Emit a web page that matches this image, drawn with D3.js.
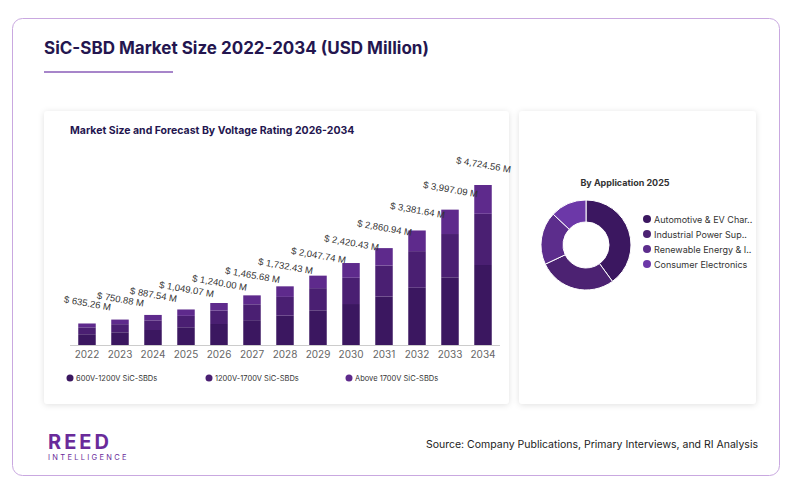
<!DOCTYPE html><html><head><meta charset="utf-8"><script src="https://cdn.jsdelivr.net/npm/d3@7"></script>
<style>body{margin:0;background:#fff;font-family:Inter,"Open Sans",sans-serif}</style></head><body><svg id="c" width="800" height="493"></svg>
<script>
const years=["2022","2023","2024","2025","2026","2027","2028","2029","2030","2031","2032","2033","2034"];
const totals=[635.26,750.88,887.54,1049.07,1240.00,1465.68,1732.43,2047.74,2420.43,2860.94,3381.64,3997.09,4724.56];
const seg600=[318,375,443,524,620,733,866,1024,1210,1430,1690,1998,2362];
const seg1200=[203,240,284,336,397,469,554,655,775,916,1082,1279,1512];
const segAbove=[114.26,135.88,160.54,189.07,223.00,263.68,312.43,368.74,435.43,514.94,609.64,720.09,850.56];
const seriesNames=["600V-1200V SiC-SBDs","1200V-1700V SiC-SBDs","Above 1700V SiC-SBDs"];
const barColors=["#3b1760","#4a1f72","#5e2a8c"];
const apps=["Automotive & EV Char..","Industrial Power Sup..","Renewable Energy & I..","Consumer Electronics"];
const appShares=[40,28,19,13];
const pieColors=["#3b1760","#4c2272","#5c2d8c","#6c38a8"];

const svg=d3.select("#c");
const defs=svg.append("defs");
const f=defs.append("filter").attr("id","sh").attr("x","-10%").attr("y","-10%").attr("width","120%").attr("height","120%");
f.append("feDropShadow").attr("dx",0).attr("dy",1).attr("stdDeviation",3).attr("flood-color","#000").attr("flood-opacity",0.12);
svg.append("rect").attr("x",12.5).attr("y",18.5).attr("width",767).attr("height",457).attr("rx",10).attr("fill","#fff").attr("stroke","#c9a8e0");
svg.append("text").attr("x",44).attr("y",54).text("SiC-SBD Market Size 2022-2034 (USD Million)").attr("font-size",17).attr("font-weight",700).attr("fill","#24164f");
svg.append("line").attr("x1",44).attr("x2",173).attr("y1",72).attr("y2",72).attr("stroke","#8a5cb8").attr("stroke-width",1.5);
svg.append("rect").attr("x",44).attr("y",111).attr("width",465).attr("height",293).attr("rx",4).attr("fill","#fff").attr("filter","url(#sh)");
svg.append("rect").attr("x",519).attr("y",111).attr("width",237).attr("height",293).attr("rx",4).attr("fill","#fff").attr("filter","url(#sh)");
svg.append("text").attr("x",70).attr("y",134).text("Market Size and Forecast By Voltage Rating 2026-2034").attr("font-size",10.5).attr("font-weight",700).attr("fill","#24164f");

const x=d3.scaleBand().domain(years).range([70,500]).paddingInner(0.47).paddingOuter(0.25);
const y=d3.scaleLinear().domain([0,4724.56]).range([345,185]);
const data=years.map((yr,i)=>({yr,a:seg600[i],b:seg1200[i],c:segAbove[i]}));
const stack=d3.stack().keys(["a","b","c"])(data);
stack.forEach((s,k)=>{
 svg.append("g").selectAll("rect").data(s).join("rect")
  .attr("x",d=>x(d.data.yr)).attr("width",x.bandwidth())
  .attr("y",d=>y(d[1])).attr("height",d=>y(d[0])-y(d[1])).attr("fill",barColors[k]);
});
svg.append("line").attr("x1",70).attr("x2",500).attr("y1",345.5).attr("y2",345.5).attr("stroke","#ccc");
const ax=svg.append("g").attr("transform","translate(0,345)").call(d3.axisBottom(x).tickSize(0).tickPadding(6));
ax.select(".domain").remove();
ax.selectAll("text").attr("font-size",10).attr("fill","#666").attr("font-family","Inter,sans-serif");
years.forEach((yr,i)=>{
 const cx=x(yr)+x.bandwidth()/2, ty=y(totals[i])-17;
 svg.append("text").attr("transform",`translate(${cx},${ty}) rotate(10)`).attr("text-anchor","middle")
  .attr("font-size",9.5).attr("font-family","Liberation Sans,Arial,sans-serif").attr("fill","#333").text("$ "+d3.format(",.2f")(totals[i])+" M");
});
const lx=[67,206,346];
seriesNames.forEach((n,i)=>{
 svg.append("circle").attr("cx",lx[i]+3).attr("cy",378).attr("r",3.5).attr("fill",barColors[i]);
 svg.append("text").attr("x",lx[i]+9).attr("y",381).text(n).attr("font-size",7.5).attr("fill","#333");
});

svg.append("text").attr("x",625).attr("y",186).attr("text-anchor","middle").text("By Application 2025").attr("font-size",9).attr("font-weight",700).attr("fill","#333");
const pie=d3.pie().sort(null)(appShares);
const arc=d3.arc().innerRadius(23).outerRadius(45);
svg.append("g").attr("transform","translate(586,245)").selectAll("path").data(pie).join("path")
 .attr("d",arc).attr("fill",(d,i)=>pieColors[i]).attr("stroke","#fff").attr("stroke-width",1);
apps.forEach((n,i)=>{
 const yy=219+i*15;
 svg.append("circle").attr("cx",647).attr("cy",yy).attr("r",4).attr("fill",pieColors[i]);
 svg.append("text").attr("x",654).attr("y",yy+3.5).text(n).attr("font-size",9).attr("fill","#333");
});

svg.append("text").attr("x",48).attr("y",449).text("REED").attr("font-size",20).attr("font-weight",700).attr("letter-spacing",3).attr("fill","#6a2b9a");
svg.append("text").attr("x",48).attr("y",460).text("INTELLIGENCE").attr("font-size",7.5).attr("letter-spacing",2.3).attr("fill","#6a2b9a");
svg.append("text").attr("x",758).attr("y",448).attr("text-anchor","end").text("Source: Company Publications, Primary Interviews, and RI Analysis").attr("font-size",10.5).attr("fill","#222");
</script></body></html>
